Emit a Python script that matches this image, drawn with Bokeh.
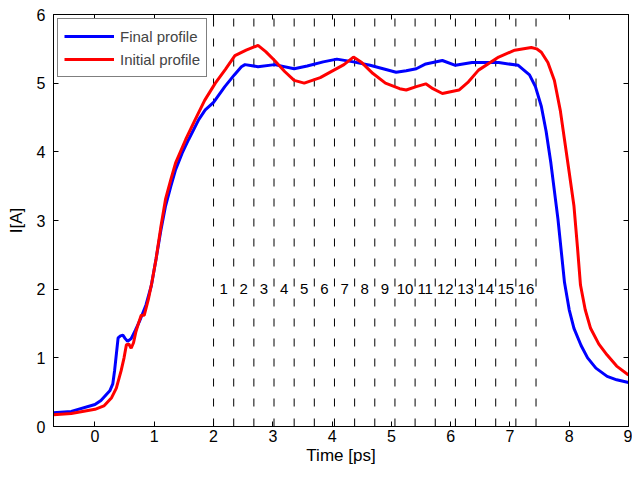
from bokeh.plotting import figure
from bokeh.models import Range1d, LinearAxis, FixedTicker, Legend, LegendItem
from bokeh.embed import file_html
from bokeh.resources import INLINE
from bokeh.core.properties import value

# Final profile (blue)
final_t = [-0.7, -0.4, 0.0, 0.1, 0.25, 0.3, 0.33, 0.36, 0.39, 0.43, 0.47, 0.51, 0.55, 0.61, 0.68, 0.75,
           0.86, 0.95, 1.03, 1.11, 1.19, 1.28, 1.36, 1.47, 1.58, 1.75, 1.86, 2.0, 2.19, 2.35, 2.47, 2.53,
           2.75, 3.03, 3.36, 3.58, 3.85, 4.08, 4.36, 4.64, 5.08, 5.25, 5.42, 5.58, 5.86, 6.08, 6.36, 6.81,
           7.14, 7.33, 7.43, 7.53, 7.61, 7.69, 7.81, 7.92, 8.0, 8.08, 8.2, 8.31, 8.45, 8.64, 8.8, 9.0]
final_i = [0.2, 0.22, 0.32, 0.38, 0.52, 0.62, 0.81, 1.05, 1.29, 1.32, 1.33, 1.28, 1.24, 1.28, 1.4, 1.53,
           1.77, 2.05, 2.44, 2.85, 3.21, 3.5, 3.74, 3.98, 4.18, 4.47, 4.61, 4.72, 4.95, 5.12, 5.24, 5.27,
           5.24, 5.27, 5.21, 5.25, 5.31, 5.35, 5.31, 5.26, 5.16, 5.18, 5.21, 5.28, 5.33, 5.26, 5.3, 5.3,
           5.26, 5.12, 4.95, 4.66, 4.3, 3.84, 3.02, 2.1, 1.7, 1.43, 1.18, 1.0, 0.85, 0.73, 0.68, 0.64]

# Initial profile (red)
init_t = [-0.7, -0.4, 0.0, 0.15, 0.28, 0.36, 0.44, 0.49, 0.53, 0.57, 0.61, 0.65, 0.69, 0.74, 0.78, 0.83,
          0.9, 0.96, 1.03, 1.11, 1.19, 1.28, 1.36, 1.53, 1.69, 1.85, 2.03, 2.2, 2.36, 2.55, 2.75, 2.88,
          3.03, 3.2, 3.36, 3.53, 3.8, 4.03, 4.2, 4.36, 4.5, 4.69, 4.9, 5.14, 5.25, 5.42, 5.58, 5.7,
          5.86, 6.14, 6.3, 6.47, 6.81, 7.08, 7.36, 7.45, 7.53, 7.64, 7.75, 7.85, 7.92, 8.0, 8.08, 8.14,
          8.19, 8.27, 8.36, 8.5, 8.64, 8.8, 9.0]
init_i = [0.17, 0.19, 0.25, 0.3, 0.42, 0.56, 0.81, 1.0, 1.19, 1.2, 1.14, 1.22, 1.38, 1.52, 1.62, 1.62,
          1.85, 2.1, 2.44, 2.9, 3.31, 3.6, 3.84, 4.18, 4.47, 4.75, 5.0, 5.2, 5.4, 5.48, 5.55, 5.46,
          5.33, 5.17, 5.04, 5.0, 5.08, 5.19, 5.27, 5.38, 5.3, 5.14, 5.0, 4.92, 4.9, 4.95, 4.99, 4.92,
          4.85, 4.9, 5.02, 5.19, 5.38, 5.48, 5.52, 5.5, 5.45, 5.3, 5.04, 4.6, 4.18, 3.7, 3.21, 2.6,
          2.06, 1.7, 1.43, 1.2, 1.04, 0.88, 0.75]

# Segment boundaries and labels
boundaries = [2.0, 2.34, 2.68, 3.02, 3.36, 3.70, 4.04, 4.38, 4.72, 5.06, 5.40, 5.74, 6.08, 6.42,
              6.76, 7.10, 7.44]
seg_labels = [str(k) for k in range(1, 17)]
label_y = 2.0

x_ticks = [0, 1, 2, 3, 4, 5, 6, 7, 8, 9]
y_ticks = [0, 1, 2, 3, 4, 5, 6]

FONT = "Liberation Sans"

p = figure(width=632, height=467, output_backend="svg", toolbar_location=None,
           x_range=Range1d(-0.7, 9), y_range=Range1d(0, 6),
           min_border_left=53, min_border_top=14, min_border_bottom=38, min_border_right=4)
p.background_fill_color = "white"
p.border_fill_color = "white"
p.outline_line_color = "black"
p.outline_line_width = 1
p.xgrid.visible = False
p.ygrid.visible = False

# dashed boundaries
p.segment(x0=boundaries, x1=boundaries, y0=[0] * len(boundaries), y1=[6] * len(boundaries),
          line_color="black", line_width=1, line_dash="8 12")

mids = [(boundaries[k] + boundaries[k + 1]) / 2 for k in range(16)]
p.text(x=mids, y=[label_y] * 16, text=seg_labels, text_align="center", text_baseline="middle",
       text_font=value(FONT), text_font_size="15px", text_color="black")

r_final = p.line(final_t, final_i, line_color="#0000ff", line_width=3)
r_init = p.line(init_t, init_i, line_color="#ff0000", line_width=3)

legend = Legend(items=[LegendItem(label="Final profile", renderers=[r_final]),
                       LegendItem(label="Initial profile", renderers=[r_init])],
                location="top_left")
legend.border_line_color = "black"
legend.border_line_width = 1
legend.label_text_font = FONT
legend.label_text_font_size = "15px"
legend.glyph_width = 50
legend.glyph_height = 22
legend.label_height = 22
legend.label_standoff = 6
legend.spacing = 1
legend.padding = 6
legend.margin = 4
legend.background_fill_alpha = 1
p.add_layout(legend)

def style_axis(ax, labels=True):
    ax.major_tick_in = 5
    ax.major_tick_out = 0
    ax.minor_tick_line_color = None
    ax.axis_line_color = "black"
    ax.major_tick_line_color = "black"
    ax.major_label_text_font = FONT
    ax.major_label_text_font_size = "16px"
    ax.major_label_text_color = "black" if labels else None
    ax.axis_label_text_font = FONT
    ax.axis_label_text_font_style = "normal"
    ax.axis_label_text_font_size = "17px"
    ax.axis_label_text_color = "black"

p.xaxis.ticker = FixedTicker(ticks=x_ticks)
p.yaxis.ticker = FixedTicker(ticks=y_ticks)
p.xaxis.axis_label = "Time [ps]"
p.yaxis.axis_label = "I[A]"
style_axis(p.xaxis[0])
style_axis(p.yaxis[0])
p.xaxis.major_label_standoff = 3
p.yaxis.major_label_standoff = 8
p.xaxis.axis_label_standoff = 1
p.yaxis.axis_label_standoff = 8

top = LinearAxis(ticker=FixedTicker(ticks=x_ticks))
style_axis(top, labels=False)
top.major_label_text_font_size = "0px"
top.major_label_standoff = 0
right = LinearAxis(ticker=FixedTicker(ticks=y_ticks))
style_axis(right, labels=False)
right.major_label_text_font_size = "0px"
right.major_label_standoff = 0
p.add_layout(top, "above")
p.add_layout(right, "right")

open("out.html", "w").write(file_html(p, INLINE))
